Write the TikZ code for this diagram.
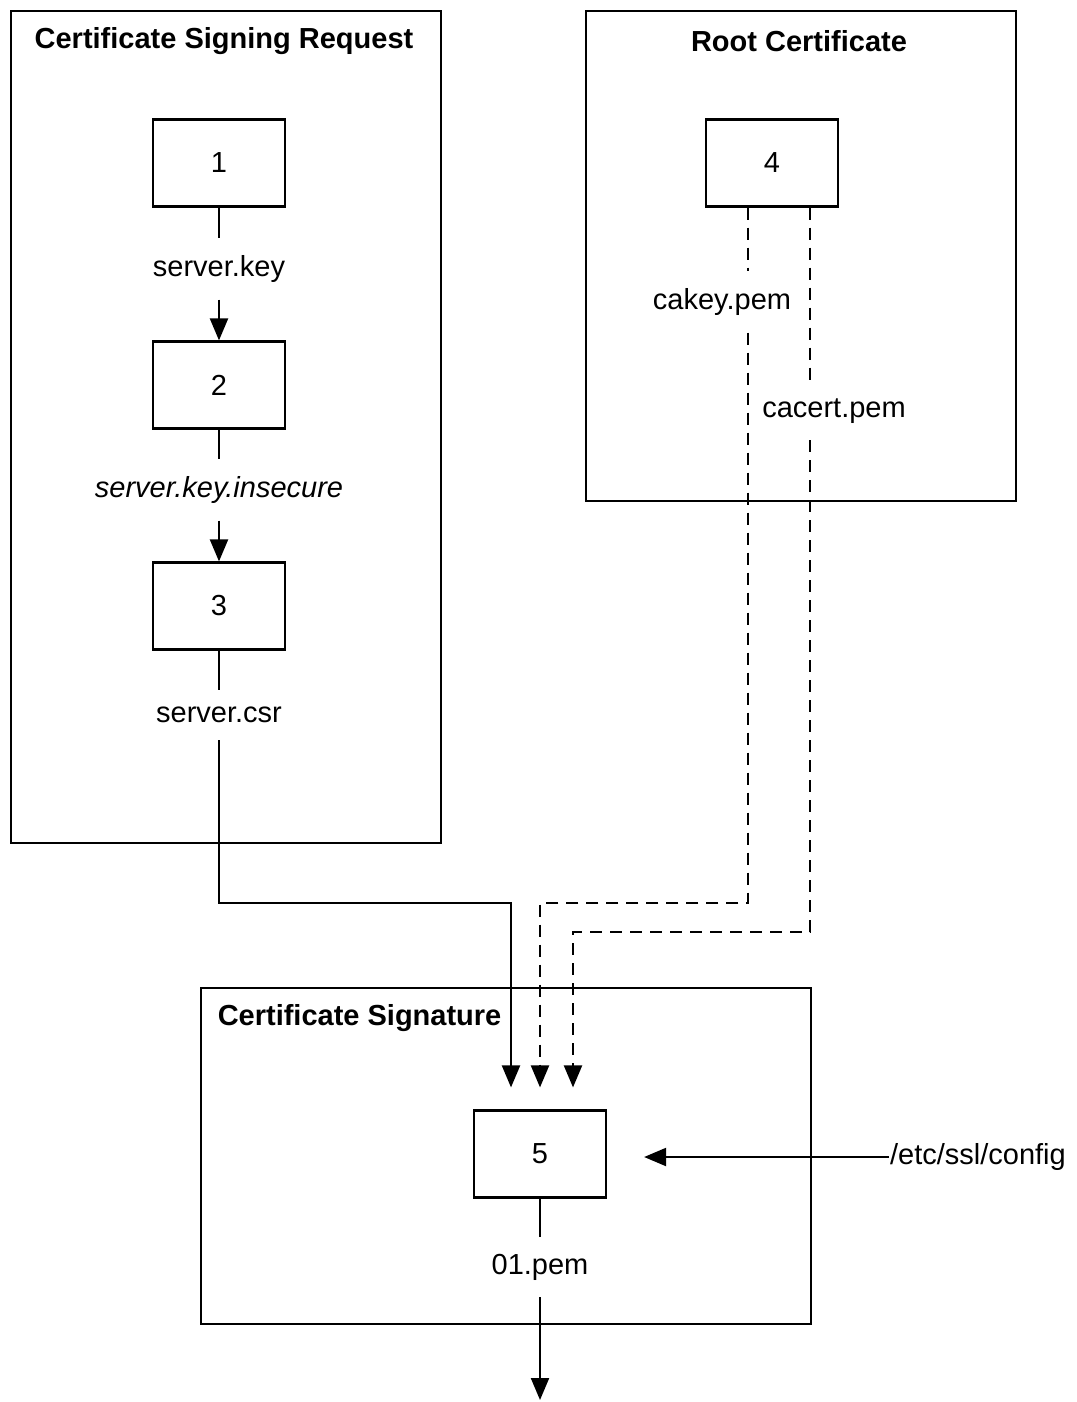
\documentclass[tikz,border=0pt]{standalone}
\usepackage{fontspec}
\setmainfont{Liberation Sans}
\usetikzlibrary{arrows.meta}
\begin{document}
\begin{tikzpicture}[x=0.5pt, y=-0.5pt, line width=1.1pt,
  every node/.style = {font=\fontsize{14.5}{17}\selectfont},
  proc/.style = {draw, minimum width=66pt, minimum height=43.5pt, inner sep=0pt},
  frame/.style = {draw, anchor=north west, inner sep=0pt},
  title/.style = {font=\fontsize{14.5}{17}\selectfont\bfseries},
  file/.style = {inner xsep=2pt, inner ysep=8pt},
  arr/.style = {-{Triangle[length=11pt,width=9pt]}},
  dline/.style = {dash pattern=on 6pt off 4pt}]
  \useasboundingbox (0,0) rectangle (1076,1402);
  % frames
  \node[frame, minimum width=215pt, minimum height=416pt] (csrbox) at (10,10) {};
  \node[frame, minimum width=215pt, minimum height=245pt] (rootbox) at (585,10) {};
  \node[frame, minimum width=305pt, minimum height=168pt] (sigbox) at (200,987) {};
  \node[title] (csrt) at (224,41) {Certificate Signing Request};
  \node[title] (roott) at (799,41) {Root Certificate};
  \node[title, anchor=west] (sigt) at (210,1018) {Certificate Signature};
  % steps and files
  \node[proc] (n1) at (219,163) {1};
  \node[file] (key) at (219,269) {server.key};
  \node[proc] (n2) at (219,385) {2};
  \node[file] (insec) at (219,490) {\itshape server.key.insecure};
  \node[proc] (n3) at (219,606) {3};
  \node[file] (csr) at (219,715) {server.csr};
  \node[proc] (n4) at (772,163) {4};
  \node[file] (cakey) at (722,302) {cakey.pem};
  \node[file] (cacert) at (834,411) {cacert.pem};
  \node[proc] (n5) at (540,1154) {5};
  \node[file] (pem) at (540,1267) {01.pem};
  \node[anchor=west, inner sep=0pt] (conf) at (889,1157) {/etc/ssl/config};
  % connectors
  \coordinate (in1) at ([xshift=-14.5pt, yshift=11pt]n5.north);
  \coordinate (in2) at ([yshift=11pt]n5.north);
  \coordinate (in3) at ([xshift=16.5pt, yshift=11pt]n5.north);
  \coordinate (kx) at ([xshift=-12pt]n4.south);
  \coordinate (cx) at ([xshift=19pt]n4.south);
  \coordinate (cin) at ([xshift=18.5pt]n5.east);
  \coordinate (out) at (540,1400);
  \draw (n1) -- (key);
  \draw[arr] (key) -- (n2);
  \draw (n2) -- (insec);
  \draw[arr] (insec) -- (n3);
  \draw (n3) -- (csr);
  \draw[arr] (csr.south) -- (csr.south |- 0,903) -| (in1);
  \draw[dline] (kx) -- (kx |- cakey.north);
  \draw[dline, arr] (kx |- cakey.south) -- (kx |- 0,903) -| (in2);
  \draw[dline] (cx) -- (cx |- cacert.north);
  \draw[dline, arr] (cx |- cacert.south) -- (cx |- 0,932) -| (in3);
  \draw[arr] (conf.west) -- (conf.west -| cin);
  \draw (n5) -- (pem);
  \draw[arr] (pem) -- (out);
\end{tikzpicture}
\end{document}
